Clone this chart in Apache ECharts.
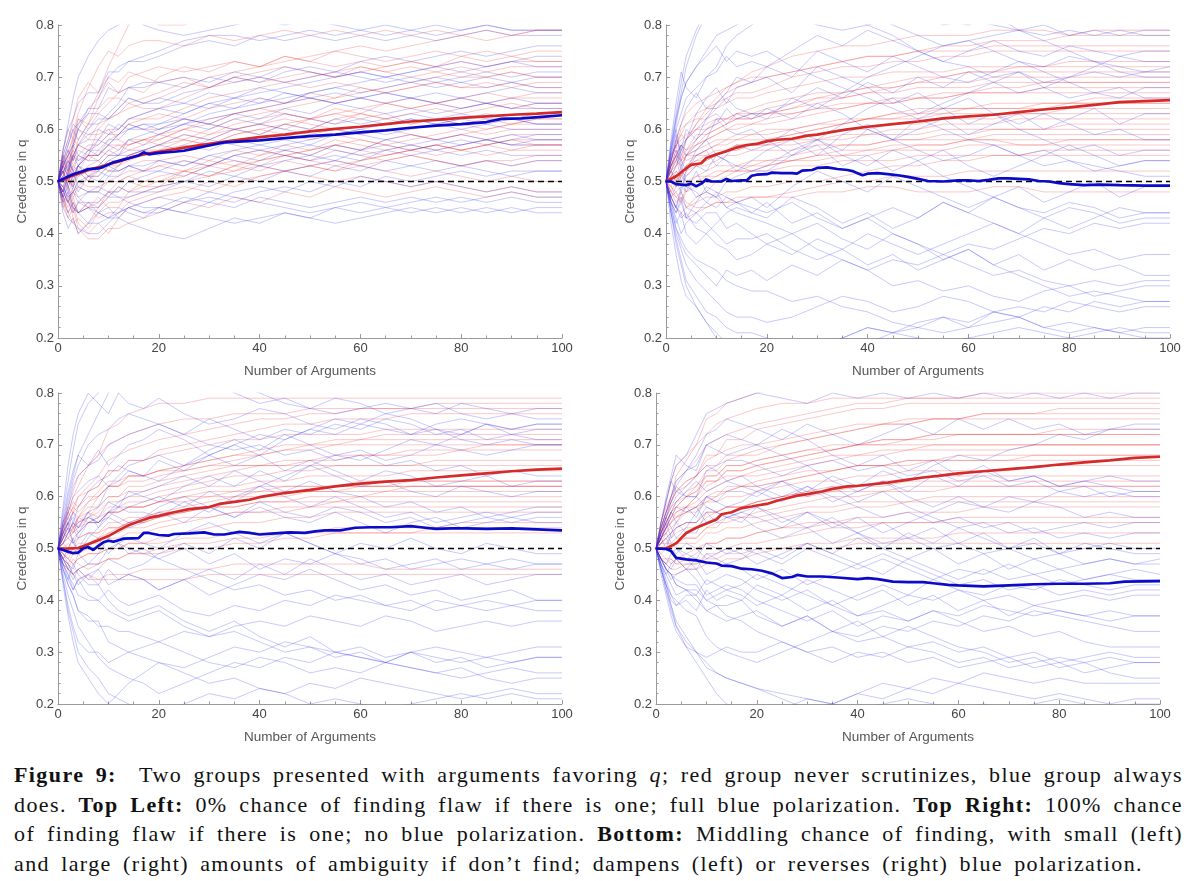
<!DOCTYPE html>
<html>
<head>
<meta charset="utf-8">
<script src="https://cdn.jsdelivr.net/npm/echarts@6/dist/echarts.min.js"></script>
<style>
  html, body { margin: 0; padding: 0; background: #fff; }
  #chart { width: 1200px; height: 750px; }
  #caption { position: absolute; left: 14px; top: 760px; font-family: "Liberation Serif", serif; font-size: 22px; letter-spacing: 1.4px; line-height: 29.7px; color: #111; }
  #caption .ln { text-align: justify; text-align-last: justify; }
</style>
</head>
<body>
<div id="chart"></div>
<div id="caption">
  <div class="ln" style="width:1169px"><b>Figure 9:</b>&nbsp; Two groups presented with arguments favoring <i>q</i>; red group never scrutinizes, blue group always</div>
  <div class="ln" style="width:1169px">does. <b>Top Left:</b> 0% chance of finding flaw if there is one; full blue polarization. <b>Top Right:</b> 100% chance</div>
  <div class="ln" style="width:1169px">of finding flaw if there is one; no blue polarization. <b>Bottom:</b> Middling chance of finding, with small (left)</div>
  <div class="ln" style="width:1129px">and large (right) amounts of ambiguity if don’t find; dampens (left) or reverses (right) blue polarization.</div>
</div>
<script>
// number of arguments at which the faint runs are sampled
var xs = [0,1,2,3,4,6,8,10,12,14,17,20,25,30,35,40,45,50,55,60,65,70,75,80,85,90,95,100];
// faint runs (credence x100)
var tlRed = [
  [50,54,51,56,60,63,67,72,76,80,82,80,80,82,83,82,83,82,83,82,83,82,83,82,83,82,83,83],
  [50,53,56,54,58,61,66,69,67,68,67,70,72,71,73,72,74,73,75,74,73,74,75,74,73,74,73,73],
  [50,52,50,54,56,55,60,62,63,65,64,64,66,68,70,69,70,71,70,72,71,70,71,70,70,71,70,70],
  [50,47,44,46,42,40,42,40,43,45,46,47,48,50,49,51,52,53,52,54,55,56,55,56,57,56,57,57],
  [50,47,49,46,44,46,45,48,48,50,49,49,52,54,53,55,56,55,57,58,57,58,59,60,59,60,60,60],
  [50,53,51,55,57,56,58,60,60,62,62,63,62,64,65,66,65,67,66,68,67,68,69,68,68,69,68,68],
  [50,48,51,49,52,50,52,54,54,55,56,57,58,57,59,60,61,60,62,63,62,63,64,63,64,65,64,64],
  [50,46,48,44,46,45,47,45,45,48,49,50,51,53,52,54,55,56,57,56,58,59,58,59,60,61,62,62],
  [50,54,52,57,60,58,61,62,63,64,65,66,68,70,71,72,73,74,75,76,75,76,77,78,77,78,79,79],
  [50,52,49,51,53,51,53,52,53,55,56,56,57,59,60,59,61,62,63,64,65,66,65,66,67,66,67,67],
  [50,46,43,45,41,39,39,41,41,42,43,44,46,45,47,46,48,47,49,48,47,48,49,48,47,48,47,47],
  [50,53,51,49,52,50,53,55,56,58,58,59,60,59,61,62,63,62,64,63,65,64,65,66,65,66,66,66],
  [50,54,52,55,57,56,57,59,59,61,60,60,62,61,63,64,63,62,63,62,63,61,62,61,62,61,61,61],
  [50,48,51,48,50,49,49,50,51,52,52,53,54,53,55,56,55,56,57,56,55,56,57,56,57,58,58,58],
  [50,55,53,58,62,60,63,65,67,70,71,72,71,72,73,72,74,73,72,73,72,73,72,73,72,73,73,73],
  [50,47,45,47,44,45,43,44,44,46,47,48,49,48,50,51,52,53,54,53,54,55,54,53,54,54,55,55],
  [50,52,50,53,55,54,56,55,55,57,58,59,58,60,62,63,64,65,66,67,68,69,70,71,70,71,70,70],
  [50,48,51,53,52,55,55,57,57,56,57,58,60,61,60,61,62,61,60,59,60,59,58,59,58,59,59,59],
  [50,52,49,47,49,48,48,50,50,51,50,50,52,51,53,52,54,53,52,53,52,51,52,51,50,51,50,50],
  [50,56,60,58,62,61,64,66,66,65,66,67,69,68,70,71,72,71,70,71,72,73,72,74,75,74,75,75],
  [50,48,46,48,49,51,51,53,53,54,55,56,58,57,59,60,59,58,59,58,57,56,57,56,55,56,56,56],
  [50,53,55,52,51,53,54,56,57,57,58,58,60,62,63,64,65,66,65,66,65,64,65,64,65,64,65,65],
  [50,46,44,42,43,41,44,46,46,47,48,49,50,51,52,53,52,51,50,51,50,49,50,49,48,49,48,48],
  [50,54,56,58,57,59,59,60,58,57,58,57,59,58,60,61,60,62,61,63,62,61,62,61,60,61,62,62],
  [50,49,51,50,53,55,55,58,59,61,62,62,64,66,67,68,69,70,71,72,71,72,71,72,71,72,72,72],
  [50,52,54,56,54,55,54,52,52,53,54,54,55,54,56,55,57,56,58,57,56,57,56,57,58,57,57,57],
  [50,55,58,62,66,69,67,70,69,71,70,69,70,68,69,70,69,68,69,68,67,68,69,68,69,68,69,69],
  [50,45,47,43,40,42,45,47,49,48,50,51,52,51,53,54,55,54,53,54,55,56,57,56,57,58,57,57],
  [50,51,55,59,63,68,72,75,74,76,77,77,76,78,77,78,79,78,79,78,79,78,79,78,79,78,79,79],
  [50,49,46,48,47,45,46,48,50,51,52,53,52,53,54,53,55,54,56,55,54,55,54,53,54,53,54,54]
];
var tlBlue = [
  [50,55,52,57,61,64,66,70,72,73,74,75,77,78,78,77,78,79,78,79,78,79,78,79,80,79,79,79],
  [50,47,49,45,44,46,44,45,43,42,41,40,39,41,43,42,44,43,45,44,45,44,45,44,45,44,45,45],
  [50,53,51,55,57,60,62,62,64,66,65,65,67,68,70,69,71,72,71,73,74,73,74,75,74,75,76,76],
  [50,48,46,49,47,48,49,48,48,50,51,52,51,53,55,54,56,55,57,56,58,57,58,59,58,59,58,58],
  [50,52,54,52,55,57,57,59,60,62,63,64,63,65,64,66,65,67,68,69,70,71,72,73,72,73,74,74],
  [50,46,48,45,44,42,42,43,44,45,44,44,46,47,46,48,49,48,50,49,51,50,51,52,51,52,52,52],
  [50,51,54,52,53,51,52,54,55,56,56,57,59,58,60,59,61,60,62,61,62,63,62,63,62,62,63,63],
  [50,54,57,60,58,61,61,63,65,68,68,69,70,69,71,70,72,71,70,71,70,69,70,69,68,69,68,68],
  [50,49,52,50,48,51,50,52,52,53,52,52,54,53,55,56,55,54,55,54,56,55,56,55,56,55,55,55],
  [50,47,44,46,44,45,44,43,43,45,46,47,46,48,47,46,45,44,45,46,45,46,47,46,47,48,47,47],
  [50,52,49,51,53,52,53,55,55,58,59,60,61,63,64,65,66,67,68,67,68,69,68,69,70,69,70,70],
  [50,53,56,54,57,58,58,57,59,61,60,61,62,61,60,61,60,59,60,59,58,59,58,57,58,57,58,58],
  [50,48,46,44,46,48,48,51,51,53,53,54,53,55,56,57,58,57,59,60,61,62,61,62,63,62,61,61],
  [50,56,60,62,65,67,67,71,71,73,73,74,76,77,76,78,77,78,77,78,77,78,77,78,79,78,78,78],
  [50,49,47,48,46,46,46,48,47,47,48,49,50,49,51,50,52,51,53,52,54,53,54,53,54,53,54,54],
  [50,51,53,55,54,56,56,58,58,60,60,59,61,62,63,64,65,66,65,66,67,66,67,66,67,68,67,67],
  [50,47,50,52,49,48,48,47,47,46,45,45,44,43,42,43,44,43,42,43,44,45,44,45,44,45,44,44],
  [50,53,55,57,55,54,54,56,55,55,56,57,56,58,57,56,57,58,59,60,59,60,61,60,61,60,60,60],
  [50,54,57,60,61,63,63,62,64,66,65,66,65,67,66,68,67,66,67,66,65,66,65,64,65,64,65,65],
  [50,48,50,49,51,52,52,51,53,55,56,55,57,56,58,57,56,57,56,55,56,57,56,57,58,57,57,57],
  [50,45,43,42,41,40,40,42,44,45,44,45,47,46,48,49,48,50,49,51,50,49,50,49,48,49,48,48],
  [50,52,53,51,53,55,55,57,59,60,61,61,63,65,66,67,68,69,70,71,70,71,72,71,72,73,72,72],
  [50,49,47,48,50,51,51,53,52,53,52,54,53,55,54,53,52,53,54,53,52,53,52,53,52,51,52,52],
  [50,53,55,57,60,59,60,59,61,60,61,60,62,61,63,62,64,63,65,64,63,64,63,64,65,64,64,64],
  [50,55,58,61,60,64,64,68,67,68,69,69,68,70,69,70,69,70,71,70,69,70,69,70,71,70,71,71],
  [50,47,46,45,44,45,45,47,49,48,48,48,50,52,51,53,54,55,54,56,57,56,57,58,57,58,59,59],
  [50,56,61,66,70,74,77,79,80,82,80,79,78,79,80,81,80,81,80,79,80,79,80,79,80,79,79,79],
  [50,44,41,43,40,42,44,43,45,44,43,45,44,46,45,47,46,45,46,47,46,47,46,47,46,47,46,46],
  [50,51,48,50,53,55,58,61,60,62,63,64,65,64,66,65,67,66,65,66,67,66,65,66,65,66,65,65],
  [50,48,52,55,53,56,55,57,56,58,57,59,61,60,62,61,63,62,61,62,61,62,61,62,61,62,61,61]
];
var trRed = [
  [50,53,56,54,58,61,64,66,68,69,71,72,74,75,76,76,77,78,78,78,79,79,79,78,79,79,79,79],
  [50,52,50,53,55,57,59,60,61,62,62,63,64,66,67,68,69,70,70,71,71,71,71,71,71,71,71,71],
  [50,48,46,47,45,47,48,50,51,52,52,53,54,55,55,56,56,57,57,58,58,57,57,58,58,58,58,58],
  [50,52,55,57,56,58,60,62,62,63,64,65,66,67,67,68,68,69,69,69,70,70,70,70,70,70,70,70],
  [50,49,47,48,46,45,45,46,46,46,47,47,47,48,48,49,49,48,48,48,49,49,48,48,48,48,48,48],
  [50,53,55,57,56,59,59,60,61,62,62,63,63,64,64,65,65,66,66,67,67,67,68,68,68,68,68,68],
  [50,51,49,52,53,55,55,56,56,57,57,58,58,59,60,60,61,61,62,62,62,63,63,63,63,63,63,63],
  [50,47,48,46,49,51,51,52,52,53,53,54,55,56,57,57,58,58,59,59,60,60,60,61,61,61,61,61],
  [50,54,57,59,58,61,63,65,66,67,67,68,70,71,72,72,73,73,74,74,75,75,75,75,75,75,75,75],
  [50,50,52,51,53,54,54,55,56,56,57,57,57,58,58,59,59,59,60,60,60,60,60,60,60,60,60,60],
  [50,46,45,44,43,44,45,46,46,47,47,47,48,49,50,50,51,51,51,52,52,52,52,52,52,52,52,52],
  [50,53,55,54,56,57,58,59,60,61,61,62,63,64,65,65,66,66,66,67,67,67,67,67,67,67,67,67],
  [50,52,53,55,54,55,56,57,58,58,59,59,60,61,62,62,63,64,64,64,65,65,65,65,66,66,66,66],
  [50,49,51,50,52,53,53,54,55,55,56,56,56,57,57,57,58,58,58,58,59,59,59,59,59,59,59,59],
  [50,55,57,59,61,62,62,64,65,66,66,67,68,69,70,70,71,71,71,72,72,72,72,72,72,72,72,72],
  [50,51,53,54,55,55,56,57,57,58,58,58,59,60,61,62,63,63,64,64,64,64,64,65,65,65,65,65],
  [50,48,47,46,48,49,50,51,52,52,52,52,53,53,54,54,54,55,55,55,55,55,56,56,56,56,56,56],
  [50,54,57,60,61,63,64,65,67,68,69,70,71,72,73,74,74,75,75,75,76,76,76,76,76,76,76,76],
  [50,52,54,53,55,56,57,58,58,59,59,60,60,61,61,62,62,62,63,63,63,63,63,64,64,64,64,64],
  [50,47,45,44,45,46,47,47,48,48,49,49,50,50,51,52,53,53,54,54,55,55,55,55,55,55,55,55],
  [50,53,54,56,55,57,58,59,60,60,61,61,62,63,64,65,65,66,67,67,68,68,69,69,69,69,69,69],
  [50,51,52,51,53,54,55,55,56,56,57,57,58,58,59,59,60,60,61,61,61,62,62,62,62,62,62,62],
  [50,55,57,58,59,60,60,61,62,62,63,63,64,65,66,67,68,69,70,71,71,72,72,73,73,73,73,73],
  [50,49,48,49,48,50,51,51,52,52,53,53,54,54,55,55,56,56,56,57,57,57,57,57,57,57,57,57],
  [50,53,55,57,58,60,61,62,62,63,63,64,65,66,66,67,67,68,68,68,69,69,69,69,69,69,69,69],
  [50,50,49,51,50,51,52,53,53,53,54,54,54,55,56,56,57,57,57,58,58,58,58,58,58,58,58,58],
  [50,54,58,61,63,65,66,67,68,69,70,70,71,72,73,74,74,75,76,76,77,77,77,78,78,78,78,78],
  [50,48,50,52,51,53,54,55,56,57,57,58,59,60,61,62,62,63,63,64,64,64,65,65,65,65,65,65]
];
var trBlue = [
  [50,56,62,67,72,78,82,86,88,88,89,90,88,86,84,82,80,78,76,77,78,79,80,78,79,78,79,79],
  [50,44,39,35,31,28,25,24,22,21,21,20,18,18,20,22,21,20,19,20,21,22,21,20,21,22,21,21],
  [50,54,58,56,60,58,62,65,67,70,69,72,70,75,73,71,74,72,70,69,71,73,72,74,73,72,71,72],
  [50,46,42,44,40,38,40,42,44,45,44,43,47,45,42,44,41,43,46,44,42,40,38,36,37,35,36,36],
  [50,55,59,54,52,56,58,62,60,59,60,58,55,57,53,55,52,54,56,53,51,53,55,57,55,53,54,54],
  [50,45,41,38,36,34,32,30,33,32,33,31,34,32,35,33,30,31,29,30,28,27,29,30,28,29,30,30],
  [50,53,55,50,48,52,48,47,50,51,52,53,56,58,61,64,66,63,65,67,69,71,68,70,72,74,73,73],
  [50,46,44,47,43,46,49,48,45,44,43,42,40,42,39,37,40,38,35,37,34,36,33,35,33,34,32,32],
  [50,57,62,66,69,72,75,78,79,80,82,83,85,84,82,80,78,75,73,72,70,71,69,70,71,70,71,71],
  [50,47,45,49,51,53,52,55,54,52,54,56,58,55,59,61,58,60,62,59,61,63,60,62,64,61,63,63],
  [50,44,40,37,34,31,29,27,25,24,24,23,24,26,28,27,25,26,28,27,25,24,22,21,22,21,20,20],
  [50,54,57,53,50,47,48,47,45,46,44,46,42,44,41,43,45,43,46,44,47,45,43,45,44,42,43,43],
  [50,55,60,63,66,68,70,71,74,72,73,72,75,78,76,79,77,75,73,75,77,75,74,76,75,74,75,75],
  [50,47,45,48,45,44,42,40,38,39,39,40,37,35,37,34,36,33,35,37,34,32,30,28,29,28,27,27],
  [50,51,53,56,58,60,62,63,61,63,62,64,62,65,63,60,58,56,54,55,57,55,53,54,52,53,54,54],
  [50,46,43,40,42,44,46,48,47,46,47,45,49,52,50,48,51,49,47,45,47,49,46,48,50,47,49,49],
  [50,58,65,71,68,66,70,72,76,78,80,82,86,88,86,84,85,83,81,80,82,79,77,75,73,71,70,70],
  [50,42,36,31,28,26,23,21,19,18,17,16,17,18,20,22,21,23,24,22,25,24,26,25,27,26,27,27],
  [50,52,54,57,55,56,58,55,54,53,52,52,55,58,56,60,58,62,64,61,63,60,58,56,57,55,56,56],
  [50,47,45,43,44,41,40,38,37,35,36,38,36,39,37,40,38,36,38,40,42,40,43,41,43,45,44,44],
  [50,54,58,61,64,67,64,64,66,64,63,63,65,68,66,69,67,70,68,71,69,67,68,66,67,68,66,66],
  [50,47,49,52,49,48,46,45,47,46,45,44,46,43,41,43,40,38,36,34,32,33,31,30,31,30,31,31],
  [50,53,56,52,55,58,60,61,64,62,63,62,66,64,67,70,72,74,76,77,75,73,71,69,67,66,68,68],
  [50,46,44,46,43,42,44,44,41,42,40,38,40,37,35,33,35,34,36,38,37,39,41,40,42,41,42,42],
  [50,56,61,66,69,72,74,76,73,75,74,75,72,70,68,66,64,62,60,58,57,55,56,54,53,52,51,51],
  [50,45,41,39,37,35,34,33,31,30,29,29,27,28,26,25,23,22,21,22,23,24,22,23,22,21,22,22],
  [50,52,50,48,52,55,56,53,55,57,56,57,60,58,55,53,56,54,51,49,47,45,44,46,45,43,44,44],
  [50,56,60,55,58,63,66,68,65,68,69,70,67,72,70,68,65,67,64,66,63,61,63,61,59,60,58,58],
  [50,44,38,34,30,26,23,20,18,16,15,14,15,16,18,19,21,22,24,23,25,26,25,27,26,25,26,26],
  [50,57,63,69,74,79,83,85,84,86,85,84,82,80,79,80,81,82,80,81,80,79,78,79,78,79,78,78]
];
var blRed = [
  [50,54,57,60,62,66,68,73,74,76,77,78,78,79,79,79,79,79,79,79,79,79,79,79,79,79,79,79],
  [50,52,55,53,56,57,60,62,62,64,64,65,66,67,68,69,70,70,71,71,72,72,72,72,72,72,72,72],
  [50,48,46,48,47,46,47,48,48,49,49,50,51,51,52,52,53,53,54,54,54,54,54,55,55,55,55,55],
  [50,51,53,55,54,56,58,60,60,62,62,63,64,65,66,66,67,67,68,68,68,69,69,69,70,70,70,70],
  [50,48,47,45,46,44,44,45,45,45,46,46,46,46,47,47,47,47,47,47,46,46,46,46,46,46,46,46],
  [50,53,55,57,56,59,61,63,63,64,64,65,66,67,68,68,69,69,70,70,70,70,70,70,70,70,70,70],
  [50,51,50,52,53,55,55,57,57,58,58,59,60,61,61,62,62,62,62,62,62,62,62,62,62,62,62,62],
  [50,49,48,50,51,51,52,54,54,55,55,56,57,58,59,60,60,61,61,62,62,63,63,63,63,63,63,63],
  [50,55,58,57,60,62,64,67,68,69,70,71,72,73,74,75,75,76,76,77,77,77,78,78,78,78,78,78],
  [50,50,51,50,52,53,53,55,55,56,56,57,57,58,58,59,59,59,59,60,60,60,60,60,60,60,60,60],
  [50,47,46,45,46,47,47,48,48,49,49,49,50,50,51,51,52,52,53,53,53,53,54,54,54,54,54,54],
  [50,53,52,54,55,56,57,59,59,60,60,61,62,63,64,64,65,65,66,66,66,66,67,67,67,67,67,67],
  [50,52,54,53,55,57,56,58,58,59,59,60,61,62,62,63,63,64,64,64,64,65,65,65,65,65,65,65],
  [50,48,49,50,49,51,51,53,53,54,54,55,56,56,57,57,57,58,58,58,58,58,58,58,58,58,58,58],
  [50,55,57,59,58,61,62,65,65,67,67,68,69,70,71,71,72,72,72,72,73,73,73,73,73,73,73,73],
  [50,51,52,53,54,55,55,57,57,58,58,59,60,60,61,61,62,62,62,63,63,63,63,63,63,63,63,63],
  [50,49,48,47,48,49,49,50,50,51,51,51,52,52,53,53,53,53,53,53,53,53,53,53,53,53,53,53],
  [50,54,56,58,60,61,62,65,65,67,67,69,70,71,72,73,74,74,75,75,75,76,76,76,76,76,76,76],
  [50,52,53,54,56,55,56,57,57,58,58,59,59,60,60,61,61,61,61,61,61,62,62,62,62,62,62,62],
  [50,47,46,45,44,45,44,44,44,44,44,44,44,45,45,45,45,45,45,45,45,45,45,45,45,45,45,45],
  [50,53,55,54,56,58,58,60,60,61,61,62,63,64,65,66,66,67,67,68,68,68,68,69,69,69,69,69],
  [50,51,52,51,52,53,53,54,54,55,55,56,57,58,58,59,59,60,60,60,61,61,61,61,61,61,61,61],
  [50,54,56,58,57,59,60,62,62,63,63,64,65,66,67,68,69,70,70,71,71,71,71,71,71,71,71,71],
  [50,49,48,47,48,49,49,50,50,51,51,52,53,54,55,55,56,56,57,57,57,57,57,57,57,57,57,57],
  [50,53,55,57,58,60,60,62,62,64,64,65,65,66,66,66,66,66,66,66,66,66,66,66,66,66,66,66],
  [50,50,49,50,49,50,50,52,52,53,53,54,55,56,57,57,58,58,59,59,59,59,59,59,59,59,59,59],
  [50,54,58,61,64,66,68,70,71,72,73,74,75,75,76,76,76,77,77,77,77,77,77,77,77,77,77,77],
  [50,48,47,49,50,51,52,53,54,55,56,57,58,59,60,60,61,61,62,62,62,62,62,62,62,62,62,62]
];
var blBlue = [
  [50,55,60,64,68,72,76,80,82,84,85,88,86,84,82,80,78,77,76,77,78,77,76,78,77,76,77,77],
  [50,45,41,38,35,32,29,27,26,25,24,22,24,26,28,27,29,28,30,29,28,30,31,30,29,30,31,31],
  [50,53,57,55,58,61,63,64,66,65,64,67,65,68,70,68,71,73,72,74,73,72,73,71,70,71,70,70],
  [50,47,45,42,44,41,40,42,40,39,40,41,38,37,39,38,40,39,41,40,39,38,40,39,38,39,38,38],
  [50,52,54,57,55,56,55,57,58,61,60,59,62,64,62,65,63,66,64,62,63,61,60,62,61,60,61,61],
  [50,46,43,41,38,37,35,35,34,34,33,32,30,28,27,29,28,26,27,26,28,27,26,25,26,27,26,26],
  [50,51,53,55,54,57,58,62,63,65,64,63,66,68,70,72,71,73,75,74,76,75,73,72,74,72,71,71],
  [50,48,46,44,46,44,46,43,44,45,44,42,44,41,43,45,44,46,44,42,43,41,42,40,41,42,40,40],
  [50,55,59,63,66,70,72,73,75,76,75,74,72,70,69,70,68,69,67,68,66,67,65,66,64,65,64,64],
  [50,48,50,52,49,52,54,56,55,54,55,57,55,58,56,59,57,56,58,57,55,56,54,55,56,55,56,56],
  [50,44,38,34,30,27,25,22,21,20,19,18,20,22,21,23,22,24,23,25,24,23,22,21,22,23,22,22],
  [50,53,55,51,50,53,52,49,51,50,49,48,50,47,49,46,48,47,49,48,46,47,48,46,47,48,47,47],
  [50,54,58,62,64,66,67,70,71,72,73,74,72,75,73,71,73,72,74,73,75,74,72,73,71,72,73,73],
  [50,46,44,47,45,43,43,40,38,37,38,39,36,34,36,33,31,33,30,31,29,30,28,29,27,28,29,29],
  [50,52,54,51,53,55,55,57,56,55,56,58,60,58,56,58,56,55,57,55,53,55,56,54,55,56,55,55],
  [50,47,44,42,44,45,46,48,47,46,47,49,51,49,52,50,53,51,49,51,50,52,50,49,51,50,49,49],
  [50,57,63,69,74,78,80,85,84,82,83,84,81,83,80,78,79,77,79,78,76,77,78,76,75,76,75,75],
  [50,44,39,35,32,30,30,28,29,30,31,32,34,33,35,36,35,37,36,35,37,36,34,35,36,35,36,36],
  [50,52,55,56,54,57,54,57,59,60,61,62,64,62,65,63,61,63,61,60,58,59,57,58,56,57,58,58],
  [50,48,46,45,43,45,43,46,44,45,44,42,44,46,44,47,45,48,46,44,45,43,44,45,43,44,45,45],
  [50,54,57,60,61,63,64,62,64,66,67,68,66,69,71,69,72,70,68,69,67,68,70,69,68,69,70,70],
  [50,47,45,43,41,40,40,38,37,36,37,38,35,33,34,32,30,31,29,30,28,27,26,27,25,24,25,25],
  [50,53,56,54,52,55,56,59,58,58,59,60,58,61,59,62,60,58,60,58,56,57,55,56,57,56,57,57],
  [50,48,47,45,46,47,47,50,51,52,51,50,53,55,53,51,53,51,49,47,48,46,47,48,47,46,47,47],
  [50,56,61,65,68,66,69,66,68,70,71,73,71,68,66,68,65,67,65,63,65,64,62,63,64,62,63,63],
  [50,46,43,41,38,36,36,32,31,30,29,28,26,24,25,23,22,20,21,20,19,20,21,22,21,22,21,21],
  [50,51,53,55,53,56,55,56,58,57,57,56,59,57,60,62,64,66,68,67,69,71,70,72,74,73,74,74],
  [50,49,47,46,49,47,49,52,51,49,50,48,46,44,42,43,41,42,40,41,39,40,38,39,40,39,40,40],
  [50,58,66,72,76,80,78,76,80,78,77,79,76,74,75,77,76,74,73,75,74,72,74,75,74,73,74,74],
  [50,43,37,32,28,25,22,20,22,24,26,28,27,29,31,30,32,31,30,29,28,30,29,28,29,28,29,29]
];
var brRed = [
  [50,54,57,60,64,67,70,75,76,78,79,80,81,81,82,82,82,82,82,82,82,82,82,82,82,82,82,82],
  [50,52,54,56,58,60,62,65,65,67,68,68,70,71,72,73,74,74,75,75,76,76,76,77,77,77,77,77],
  [50,48,47,48,47,48,49,51,51,52,52,53,54,55,55,56,56,57,57,57,58,58,58,58,58,58,58,58],
  [50,52,54,56,57,58,60,63,63,65,65,66,67,68,69,70,70,71,71,72,72,72,72,73,73,73,73,73],
  [50,49,48,48,47,47,47,48,48,49,49,50,50,51,51,52,52,52,52,53,53,53,53,53,53,53,53,53],
  [50,53,56,58,59,61,62,64,64,66,66,67,68,69,70,70,71,71,72,72,72,72,72,72,72,72,72,72],
  [50,52,53,55,56,57,57,59,59,60,60,61,62,63,63,64,64,65,65,65,65,65,66,66,66,66,66,66],
  [50,50,51,52,53,54,54,56,57,58,58,59,60,61,62,62,63,63,64,64,64,64,64,64,64,64,64,64],
  [50,55,58,60,63,65,67,70,71,72,73,74,75,76,77,78,78,79,79,79,80,80,80,80,80,80,80,80],
  [50,51,52,53,54,55,55,57,57,58,58,59,60,60,61,61,61,62,62,62,62,62,62,62,62,62,62,62],
  [50,48,47,46,46,47,47,49,49,50,51,51,52,53,54,54,55,55,55,56,56,56,56,56,56,56,56,56],
  [50,53,55,57,58,58,60,62,63,64,64,65,66,67,68,68,69,69,70,70,70,70,70,70,70,70,70,70],
  [50,52,54,55,57,58,58,60,61,61,62,62,63,64,65,66,66,67,67,68,68,68,68,68,68,68,68,68],
  [50,49,50,50,51,52,52,54,55,55,56,56,57,58,58,59,59,59,60,60,60,60,60,60,60,60,60,60],
  [50,54,57,59,61,63,64,67,68,69,70,70,71,72,73,74,74,75,75,75,75,75,75,75,75,75,75,75],
  [50,51,53,54,55,57,58,59,60,61,62,62,63,64,65,66,66,67,67,67,67,67,68,68,68,68,68,68],
  [50,48,48,47,48,49,50,51,51,52,52,53,54,54,55,55,55,55,55,55,55,55,55,55,55,55,55,55],
  [50,54,56,59,61,63,64,68,68,71,71,73,74,75,76,77,77,78,78,78,78,78,78,78,78,78,78,78],
  [50,52,54,55,56,57,58,60,60,62,62,63,64,65,65,66,66,66,67,67,67,67,67,67,67,67,67,67],
  [50,48,46,45,45,46,46,47,47,48,48,49,50,50,50,51,51,51,51,51,51,51,51,51,51,51,51,51],
  [50,53,55,57,58,60,61,63,63,65,65,66,67,68,69,70,71,71,72,72,72,72,72,72,72,72,72,72],
  [50,51,52,53,54,55,55,57,57,58,58,59,60,61,61,62,62,63,63,63,63,63,63,63,63,63,63,63],
  [50,54,57,59,61,62,64,66,66,68,68,69,70,71,72,73,74,74,75,75,76,76,76,76,76,76,76,76],
  [50,50,50,50,51,51,51,53,53,54,54,55,56,57,57,58,58,59,59,59,59,59,59,59,59,59,59,59],
  [50,53,55,57,59,60,61,64,64,66,66,67,68,69,69,70,70,70,70,70,70,70,70,70,70,70,70,70],
  [50,51,51,51,52,52,52,54,54,56,56,57,58,59,60,60,61,61,61,62,62,62,62,62,62,62,62,62],
  [50,55,59,63,66,68,70,72,74,75,76,77,78,78,79,79,79,79,79,79,79,79,79,79,79,79,79,79],
  [50,52,55,57,56,58,59,61,62,63,64,64,65,66,67,68,68,69,69,69,69,69,70,70,70,70,70,70]
];
var brBlue = [
  [50,55,59,63,66,68,72,76,77,78,79,80,79,78,80,79,80,79,80,79,80,79,80,79,80,79,80,80],
  [50,46,42,39,36,33,30,27,26,25,24,23,22,21,20,19,20,21,20,19,20,19,20,21,20,19,20,20],
  [50,52,54,57,55,58,56,60,59,61,61,60,63,61,64,62,65,63,66,68,67,69,70,72,71,73,74,74],
  [50,47,45,43,41,42,40,38,37,36,37,38,35,37,34,36,33,35,33,31,30,28,29,27,28,26,25,25],
  [50,52,50,53,55,53,53,57,55,56,55,58,56,54,56,53,55,52,54,51,53,50,52,49,51,50,49,49],
  [50,46,43,41,39,40,38,42,40,41,40,43,41,44,42,40,42,39,41,38,40,37,39,38,37,38,37,37],
  [50,54,57,60,62,60,60,58,57,56,57,58,55,57,54,56,53,55,57,59,58,60,59,61,60,61,60,60],
  [50,48,46,45,44,43,43,40,39,37,36,34,32,30,31,29,30,28,29,27,28,29,27,28,26,27,28,28],
  [50,53,56,58,60,62,64,66,65,63,62,61,63,60,62,59,61,58,56,54,55,53,54,52,53,52,53,53],
  [50,48,47,46,48,46,48,45,46,47,46,44,46,43,45,47,45,48,46,44,46,44,45,43,44,45,44,44],
  [50,55,60,64,68,66,65,70,71,72,71,70,73,71,68,66,68,65,67,64,66,63,64,62,63,62,61,61],
  [50,47,44,41,40,38,37,33,31,30,29,28,30,32,34,33,35,34,36,35,37,36,38,37,36,35,34,34],
  [50,52,54,56,58,57,58,55,56,57,56,54,52,54,51,53,50,48,50,47,49,46,48,46,47,48,47,47],
  [50,48,47,49,50,48,46,43,44,45,44,42,40,42,39,41,43,41,44,42,40,41,39,40,41,40,41,41],
  [50,54,57,60,63,65,68,72,73,75,74,73,71,74,72,70,72,74,72,75,73,75,73,74,72,73,73,73],
  [50,46,42,38,35,32,30,28,26,25,24,23,21,19,20,22,24,23,25,24,26,25,24,25,24,24,24,24],
  [50,51,52,50,49,51,50,48,49,50,49,47,49,51,49,52,50,53,51,54,52,50,51,49,50,51,50,50],
  [50,48,46,45,43,42,41,44,43,42,43,45,43,41,39,37,38,36,38,36,34,35,33,34,32,31,31,31],
  [50,53,56,54,52,54,57,60,59,58,59,61,59,62,60,58,56,57,55,56,54,55,53,54,55,54,55,55],
  [50,48,46,45,43,42,42,40,41,42,41,39,41,38,40,37,39,41,40,42,41,43,42,44,43,42,43,43],
  [50,52,55,57,59,61,63,61,62,63,64,62,60,62,59,61,63,61,64,62,65,63,64,62,63,64,63,63],
  [50,47,45,47,48,46,44,41,42,43,42,40,38,36,38,35,37,36,38,37,39,38,37,38,37,36,37,37],
  [50,52,53,51,50,49,48,51,50,49,50,49,47,50,48,46,48,46,44,46,45,47,45,46,44,45,46,45],
  [50,45,41,37,34,31,30,29,30,31,30,30,32,30,28,30,29,31,30,28,29,27,28,29,28,29,28,28],
  [50,53,55,52,54,55,55,58,57,56,57,56,54,57,55,53,51,52,50,51,49,50,48,49,47,48,47,48],
  [50,48,46,44,45,46,46,49,48,47,48,50,48,51,49,47,49,47,45,43,44,42,43,41,42,41,42,42],
  [50,55,59,63,61,60,60,65,66,67,67,66,64,66,63,61,63,60,58,60,58,57,59,58,56,57,56,56],
  [50,46,43,40,39,41,41,38,39,39,40,37,35,37,34,32,33,31,32,30,31,29,30,28,29,30,29,29],
  [50,47,43,39,35,31,28,25,22,20,19,18,19,21,20,22,21,23,22,24,23,22,21,22,21,20,21,21],
  [50,53,56,59,62,65,66,70,69,68,69,70,68,66,67,65,66,64,65,63,64,62,63,61,62,60,61,61]
];
// group means [arguments, credence]
var tlRedMean = [[0,0.5],[1,0.503],[2,0.508],[4,0.515],[6,0.522],[8,0.527],[10,0.533],[12,0.538],[15,0.548],[18,0.554],[20,0.557],[25,0.565],[30,0.572],[35,0.579],[40,0.585],[45,0.59],[50,0.596],[55,0.601],[60,0.605],[65,0.61],[70,0.615],[75,0.618],[80,0.622],[85,0.625],[90,0.628],[95,0.63],[100,0.633]];
var tlBlueMean = [[0,0.5],[1,0.505],[3,0.514],[5,0.52],[6,0.524],[8,0.525],[9,0.528],[11,0.537],[13,0.542],[15,0.547],[16,0.55],[17,0.556],[18,0.552],[20,0.555],[23,0.557],[25,0.559],[27,0.563],[29,0.567],[31,0.571],[33,0.575],[35,0.576],[40,0.579],[45,0.583],[50,0.587],[55,0.59],[60,0.594],[65,0.598],[70,0.603],[75,0.607],[80,0.61],[85,0.614],[88,0.62],[92,0.621],[96,0.624],[100,0.627]];
var trRedMean = [[0,0.5],[2,0.51],[4,0.525],[5,0.532],[7,0.535],[8,0.545],[10,0.552],[12,0.558],[14,0.565],[16,0.57],[18,0.572],[20,0.577],[22,0.58],[25,0.582],[28,0.588],[30,0.59],[33,0.595],[36,0.6],[40,0.605],[45,0.61],[50,0.615],[55,0.621],[60,0.625],[65,0.628],[70,0.633],[75,0.638],[80,0.642],[85,0.647],[90,0.652],[95,0.654],[100,0.656]];
var trBlueMean = [[0,0.5],[1,0.5],[2,0.495],[4,0.493],[5,0.496],[6,0.491],[7,0.496],[8,0.504],[9,0.5],[11,0.5],[12,0.505],[13,0.501],[15,0.502],[16,0.502],[17,0.511],[18,0.513],[20,0.514],[21,0.517],[23,0.516],[25,0.516],[26,0.515],[27,0.521],[29,0.522],[30,0.526],[32,0.527],[34,0.524],[36,0.522],[37,0.52],[38,0.516],[39,0.512],[40,0.515],[42,0.516],[44,0.514],[46,0.512],[48,0.509],[50,0.505],[52,0.501],[55,0.5],[58,0.502],[60,0.502],[62,0.501],[64,0.503],[66,0.506],[68,0.506],[70,0.505],[72,0.504],[74,0.501],[76,0.5],[78,0.497],[80,0.495],[83,0.493],[86,0.494],[90,0.493],[95,0.492],[100,0.492]];
var blRedMean = [[0,0.5],[2,0.5],[4,0.501],[6,0.508],[8,0.516],[10,0.524],[12,0.535],[14,0.545],[16,0.552],[18,0.559],[20,0.563],[23,0.57],[26,0.576],[30,0.58],[32,0.586],[35,0.59],[38,0.594],[40,0.599],[45,0.607],[50,0.613],[55,0.62],[60,0.625],[65,0.629],[70,0.632],[75,0.637],[80,0.641],[85,0.645],[90,0.649],[95,0.652],[100,0.654]];
var blBlueMean = [[0,0.5],[1,0.497],[2,0.494],[3,0.491],[4,0.492],[5,0.5],[6,0.503],[7,0.497],[8,0.505],[9,0.512],[10,0.515],[11,0.513],[12,0.516],[13,0.519],[16,0.52],[17,0.53],[18,0.53],[20,0.526],[22,0.525],[23,0.528],[26,0.529],[29,0.531],[31,0.527],[33,0.527],[36,0.532],[38,0.53],[40,0.527],[43,0.529],[46,0.531],[49,0.53],[51,0.533],[53,0.535],[56,0.535],[59,0.54],[62,0.541],[66,0.541],[70,0.543],[72,0.541],[75,0.538],[78,0.539],[81,0.539],[85,0.538],[90,0.539],[95,0.537],[100,0.535]];
var brRedMean = [[0,0.5],[2,0.5],[3,0.505],[4,0.51],[5,0.52],[6,0.53],[8,0.54],[10,0.548],[12,0.556],[13,0.566],[15,0.57],[17,0.578],[19,0.581],[20,0.583],[22,0.586],[24,0.592],[26,0.597],[28,0.602],[30,0.605],[33,0.61],[35,0.615],[38,0.62],[40,0.621],[43,0.624],[46,0.627],[50,0.633],[53,0.637],[56,0.64],[60,0.645],[65,0.649],[70,0.653],[75,0.657],[80,0.662],[85,0.666],[90,0.67],[95,0.675],[100,0.677]];
var brBlueMean = [[0,0.5],[2,0.499],[3,0.495],[4,0.482],[6,0.479],[8,0.477],[10,0.473],[12,0.471],[13,0.467],[15,0.466],[17,0.461],[19,0.46],[21,0.457],[23,0.452],[25,0.443],[27,0.445],[28,0.449],[30,0.446],[33,0.446],[36,0.444],[40,0.441],[42,0.443],[44,0.441],[47,0.436],[50,0.435],[53,0.435],[55,0.433],[58,0.43],[60,0.429],[65,0.427],[70,0.429],[75,0.431],[80,0.432],[85,0.432],[90,0.433],[93,0.436],[100,0.437]];
var baseline = 0.5;
var xTicks = { min: 0, max: 100, interval: 20 };
var yTicks = { min: 0.2, max: 0.8, interval: 0.1 };

var panels = [
  { red: tlRed, blue: tlBlue, redMean: tlRedMean, blueMean: tlBlueMean, grid: { left: 58, top: 25, width: 504, height: 313 } },
  { red: trRed, blue: trBlue, redMean: trRedMean, blueMean: trBlueMean, grid: { left: 666, top: 25, width: 504, height: 313 } },
  { red: blRed, blue: blBlue, redMean: blRedMean, blueMean: blBlueMean, grid: { left: 58, top: 393, width: 504, height: 311 } },
  { red: brRed, blue: brBlue, redMean: brRedMean, blueMean: brBlueMean, grid: { left: 656, top: 393, width: 504, height: 311 } }
];

var axisGray = '#9a9a9a';
var grids = [], xAxes = [], yAxes = [], series = [];

function runPoints(ys) {
  return ys.slice(0, xs.length).map(function (v, i) { return [xs[i], v / 100]; });
}
function lineSeries(idx, data, color, width, z, dash) {
  return {
    type: 'line', xAxisIndex: idx, yAxisIndex: idx, data: data,
    symbol: 'none', silent: true, animation: false, z: z,
    lineStyle: { color: color, width: width, type: dash || 'solid' }
  };
}

panels.forEach(function (p, i) {
  grids.push(p.grid);
  xAxes.push({
    gridIndex: i, type: 'value', min: xTicks.min, max: xTicks.max, interval: xTicks.interval,
    name: 'Number of Arguments', nameLocation: 'middle', nameGap: 26,
    nameTextStyle: { color: '#555', fontSize: 13.5, fontFamily: 'Liberation Sans' },
    axisLine: { onZero: false, lineStyle: { color: axisGray, width: 1 } },
    axisTick: { inside: true, length: 4, lineStyle: { color: axisGray } },
    minorTick: { show: true, splitNumber: 4, length: 2.5, lineStyle: { color: axisGray } },
    splitLine: { show: false },
    axisLabel: { color: '#444', fontSize: 13, margin: 4, fontFamily: 'Liberation Sans' }
  });
  yAxes.push({
    gridIndex: i, type: 'value', min: yTicks.min, max: yTicks.max, interval: yTicks.interval,
    name: 'Credence in q', nameLocation: 'middle', nameGap: 29, nameRotate: 90,
    nameTextStyle: { color: '#555', fontSize: 13.5, fontFamily: 'Liberation Sans' },
    axisLine: { show: true, onZero: false, lineStyle: { color: axisGray, width: 1 } },
    axisTick: { show: true, inside: true, length: 4, lineStyle: { color: axisGray } },
    minorTick: { show: true, splitNumber: 5, length: 2.5, lineStyle: { color: axisGray } },
    splitLine: { show: false },
    axisLabel: { color: '#444', fontSize: 13, margin: 4, fontFamily: 'Liberation Sans',
      formatter: function (v) { return v.toFixed(1); } }
  });
  p.red.forEach(function (ys) { series.push(lineSeries(i, runPoints(ys), 'rgba(235,40,40,0.25)', 1, 1)); });
  p.blue.forEach(function (ys) { series.push(lineSeries(i, runPoints(ys), 'rgba(40,40,235,0.25)', 1, 2)); });
  series.push(lineSeries(i, [[xTicks.min, baseline], [xTicks.max, baseline]], '#000', 1.6, 3, [6, 4]));
  series.push(lineSeries(i, p.redMean, '#d42a2a', 2.7, 4));
  series.push(lineSeries(i, p.blueMean, '#0a0ac8', 2.7, 5));
});

var chart = echarts.init(document.getElementById('chart'));
chart.setOption({
  backgroundColor: '#fff',
  animation: false,
  grid: grids,
  xAxis: xAxes,
  yAxis: yAxes,
  series: series
});
</script>
</body>
</html>
